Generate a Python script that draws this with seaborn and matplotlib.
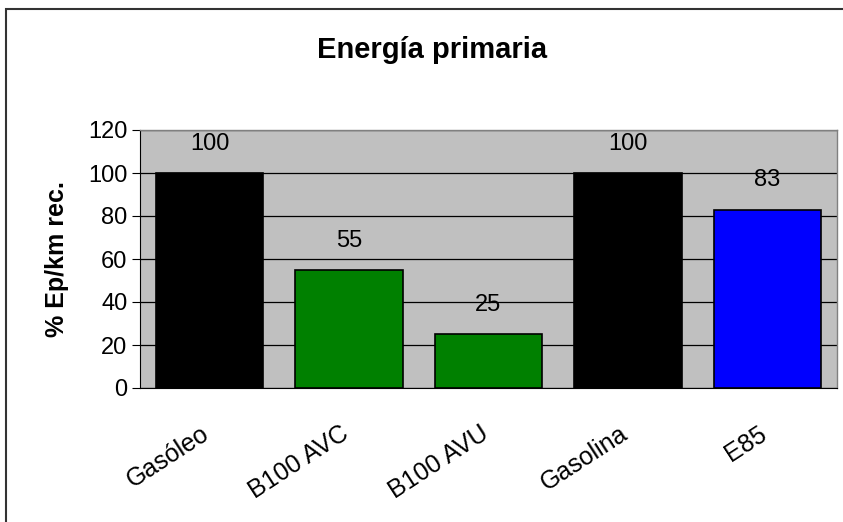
import matplotlib
matplotlib.use("Agg")
import matplotlib.pyplot as plt
import matplotlib.transforms as mtransforms
import seaborn as sns
import pandas as pd

# Datos
combustibles = ["Gasóleo", "B100 AVC", "B100 AVU", "Gasolina", "E85"]
valores = [100, 55, 25, 100, 83]
colores = ["#000000", "#008000", "#008000", "#000000", "#0000FF"]
ticks_y = [0, 20, 40, 60, 80, 100, 120]

sns.set_style("white")
plt.rcParams['font.family'] = ['Liberation Sans', 'DejaVu Sans']
plt.rcParams['text.color'] = 'black'
plt.rcParams['axes.labelcolor'] = 'black'
plt.rcParams['xtick.color'] = 'black'
plt.rcParams['ytick.color'] = 'black'

df = pd.DataFrame({"Combustible": combustibles, "Valor": valores})

fig = plt.figure(figsize=(8.43, 5.22), dpi=100)
W, H = 843, 522

# marco exterior (solo se ven los bordes izquierdo y superior)
fig.patches.append(plt.Rectangle((6 / W, -0.05), 1.1, 1 - 9 / H + 0.05,
                                 transform=fig.transFigure, fill=False,
                                 edgecolor="#333333", linewidth=1.5))

ax = fig.add_axes([140 / W, 1 - 388 / H, (837 - 140) / W, (388 - 130) / H])
ax.set_facecolor("#C0C0C0")

sns.barplot(data=df, x="Combustible", y="Valor", hue="Combustible",
            palette=colores, saturation=1, width=0.77, edgecolor="black",
            linewidth=1.2, legend=False, ax=ax, zorder=3)

ax.set_ylim(0, 120)
ax.set_xlim(-0.5, len(combustibles) - 0.5)
ax.set_yticks(ticks_y)
ax.yaxis.grid(True, color="black", linewidth=0.9, zorder=1)
ax.set_axisbelow(True)

for i, v in enumerate(valores):
    ax.annotate(str(v), (i, v), xytext=(0, 21), textcoords="offset points",
                ha="center", va="center", fontsize=17)

# spines estilo Excel
for s in ["top", "right"]:
    ax.spines[s].set_color("#808080")
    ax.spines[s].set_linewidth(1.0)
ax.spines["left"].set_color("black")
ax.spines["bottom"].set_color("black")

# ticks del eje x entre categorías
ax.set_xticks([i + 0.5 for i in range(-1, len(combustibles))], minor=False)
ax.set_xticklabels([])
ax.tick_params(axis="x", which="major", direction="out", length=6, color="black")
ax.set_xticks(range(len(combustibles)), minor=True)
ax.set_xticklabels(combustibles, minor=True, rotation=33, ha="right",
                   va="top", rotation_mode="anchor", fontsize=18)
ax.tick_params(axis="x", which="minor", length=0, pad=24)
desplazamiento = mtransforms.ScaledTranslation(-9 / 100, 0, fig.dpi_scale_trans)
for lbl in ax.get_xticklabels(minor=True):
    lbl.set_transform(lbl.get_transform() + desplazamiento)
ax.tick_params(axis="y", direction="out", length=6, color="black",
               labelsize=17, left=True, pad=3)

ax.set_xlabel("")
ax.set_ylabel("% Ep/km rec.", fontsize=18, fontweight="bold", labelpad=14)

fig.text(432 / W, 1 - 50 / H, "Energía primaria", ha="center", va="center",
         fontsize=21, fontweight="bold")

fig.savefig("out.png", dpi=100)
